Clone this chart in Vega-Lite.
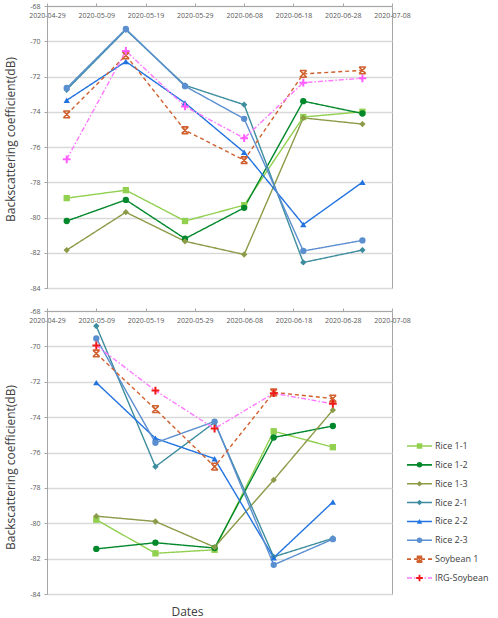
{
  "$schema": "https://vega.github.io/schema/vega-lite/v6.json",
  "background": "white",
  "padding": {"left": 4, "top": 1, "right": 4, "bottom": 0},
  "bounds": "flush",
  "spacing": 23,
  "config": {
    "font": "Open Sans",
    "view": {"stroke": "#A6A6A6", "strokeWidth": 1},
    "axis": {
      "labelFont": "Open Sans", "labelFontSize": 7, "labelColor": "#595959",
      "domainColor": "#A6A6A6", "tickColor": "#A6A6A6",
      "gridColor": "#D9D9D9", "gridWidth": 1.5,
      "titleFont": "Open Sans", "titleFontWeight": "normal", "titleColor": "#404040", "titleFontSize": 12
    }
  },
  "datasets": {
    "top": [
      {"series": "Rice 1-1", "date": "2020-05-03", "value": -78.9},
      {"series": "Rice 1-1", "date": "2020-05-15", "value": -78.45},
      {"series": "Rice 1-1", "date": "2020-05-27", "value": -80.2},
      {"series": "Rice 1-1", "date": "2020-06-08", "value": -79.3},
      {"series": "Rice 1-1", "date": "2020-06-20", "value": -74.3},
      {"series": "Rice 1-1", "date": "2020-07-02", "value": -74.0},
      {"series": "Rice 1-2", "date": "2020-05-03", "value": -80.2},
      {"series": "Rice 1-2", "date": "2020-05-15", "value": -79.0},
      {"series": "Rice 1-2", "date": "2020-05-27", "value": -81.2},
      {"series": "Rice 1-2", "date": "2020-06-08", "value": -79.45},
      {"series": "Rice 1-2", "date": "2020-06-20", "value": -73.4},
      {"series": "Rice 1-2", "date": "2020-07-02", "value": -74.1},
      {"series": "Rice 1-3", "date": "2020-05-03", "value": -81.85},
      {"series": "Rice 1-3", "date": "2020-05-15", "value": -79.7},
      {"series": "Rice 1-3", "date": "2020-05-27", "value": -81.35},
      {"series": "Rice 1-3", "date": "2020-06-08", "value": -82.1},
      {"series": "Rice 1-3", "date": "2020-06-20", "value": -74.35},
      {"series": "Rice 1-3", "date": "2020-07-02", "value": -74.7},
      {"series": "Rice 2-1", "date": "2020-05-03", "value": -72.75},
      {"series": "Rice 2-1", "date": "2020-05-15", "value": -69.35},
      {"series": "Rice 2-1", "date": "2020-05-27", "value": -72.5},
      {"series": "Rice 2-1", "date": "2020-06-08", "value": -73.6},
      {"series": "Rice 2-1", "date": "2020-06-20", "value": -82.55},
      {"series": "Rice 2-1", "date": "2020-07-02", "value": -81.85},
      {"series": "Rice 2-2", "date": "2020-05-03", "value": -73.35},
      {"series": "Rice 2-2", "date": "2020-05-15", "value": -71.15},
      {"series": "Rice 2-2", "date": "2020-05-27", "value": -73.5},
      {"series": "Rice 2-2", "date": "2020-06-08", "value": -76.3},
      {"series": "Rice 2-2", "date": "2020-06-20", "value": -80.4},
      {"series": "Rice 2-2", "date": "2020-07-02", "value": -78.0},
      {"series": "Rice 2-3", "date": "2020-05-03", "value": -72.65},
      {"series": "Rice 2-3", "date": "2020-05-15", "value": -69.3},
      {"series": "Rice 2-3", "date": "2020-05-27", "value": -72.55},
      {"series": "Rice 2-3", "date": "2020-06-08", "value": -74.4},
      {"series": "Rice 2-3", "date": "2020-06-20", "value": -81.9},
      {"series": "Rice 2-3", "date": "2020-07-02", "value": -81.3},
      {"series": "Soybean 1", "date": "2020-05-03", "value": -74.15},
      {"series": "Soybean 1", "date": "2020-05-15", "value": -70.8},
      {"series": "Soybean 1", "date": "2020-05-27", "value": -75.05},
      {"series": "Soybean 1", "date": "2020-06-08", "value": -76.75},
      {"series": "Soybean 1", "date": "2020-06-20", "value": -71.85},
      {"series": "Soybean 1", "date": "2020-07-02", "value": -71.65},
      {"series": "IRG-Soybean", "date": "2020-05-03", "value": -76.7},
      {"series": "IRG-Soybean", "date": "2020-05-15", "value": -70.55},
      {"series": "IRG-Soybean", "date": "2020-05-27", "value": -73.7},
      {"series": "IRG-Soybean", "date": "2020-06-08", "value": -75.5},
      {"series": "IRG-Soybean", "date": "2020-06-20", "value": -72.35},
      {"series": "IRG-Soybean", "date": "2020-07-02", "value": -72.1}
    ],
    "bottom": [
      {"series": "Rice 1-1", "date": "2020-05-09", "value": -79.8},
      {"series": "Rice 1-1", "date": "2020-05-21", "value": -81.7},
      {"series": "Rice 1-1", "date": "2020-06-02", "value": -81.5},
      {"series": "Rice 1-1", "date": "2020-06-14", "value": -74.8},
      {"series": "Rice 1-1", "date": "2020-06-26", "value": -75.7},
      {"series": "Rice 1-2", "date": "2020-05-09", "value": -81.45},
      {"series": "Rice 1-2", "date": "2020-05-21", "value": -81.1},
      {"series": "Rice 1-2", "date": "2020-06-02", "value": -81.4},
      {"series": "Rice 1-2", "date": "2020-06-14", "value": -75.15},
      {"series": "Rice 1-2", "date": "2020-06-26", "value": -74.5},
      {"series": "Rice 1-3", "date": "2020-05-09", "value": -79.6},
      {"series": "Rice 1-3", "date": "2020-05-21", "value": -79.9},
      {"series": "Rice 1-3", "date": "2020-06-02", "value": -81.35},
      {"series": "Rice 1-3", "date": "2020-06-14", "value": -77.55},
      {"series": "Rice 1-3", "date": "2020-06-26", "value": -73.6},
      {"series": "Rice 2-1", "date": "2020-05-09", "value": -68.85},
      {"series": "Rice 2-1", "date": "2020-05-21", "value": -76.8},
      {"series": "Rice 2-1", "date": "2020-06-02", "value": -74.3},
      {"series": "Rice 2-1", "date": "2020-06-14", "value": -81.9},
      {"series": "Rice 2-1", "date": "2020-06-26", "value": -80.85},
      {"series": "Rice 2-2", "date": "2020-05-09", "value": -72.05},
      {"series": "Rice 2-2", "date": "2020-05-21", "value": -75.2},
      {"series": "Rice 2-2", "date": "2020-06-02", "value": -76.35},
      {"series": "Rice 2-2", "date": "2020-06-14", "value": -81.95},
      {"series": "Rice 2-2", "date": "2020-06-26", "value": -78.8},
      {"series": "Rice 2-3", "date": "2020-05-09", "value": -69.55},
      {"series": "Rice 2-3", "date": "2020-05-21", "value": -75.45},
      {"series": "Rice 2-3", "date": "2020-06-02", "value": -74.25},
      {"series": "Rice 2-3", "date": "2020-06-14", "value": -82.35},
      {"series": "Rice 2-3", "date": "2020-06-26", "value": -80.9},
      {"series": "Soybean 1", "date": "2020-05-09", "value": -70.4},
      {"series": "Soybean 1", "date": "2020-05-21", "value": -73.55},
      {"series": "Soybean 1", "date": "2020-06-02", "value": -76.8},
      {"series": "Soybean 1", "date": "2020-06-14", "value": -72.6},
      {"series": "Soybean 1", "date": "2020-06-26", "value": -72.95},
      {"series": "IRG-Soybean", "date": "2020-05-09", "value": -69.95},
      {"series": "IRG-Soybean", "date": "2020-05-21", "value": -72.5},
      {"series": "IRG-Soybean", "date": "2020-06-02", "value": -74.65},
      {"series": "IRG-Soybean", "date": "2020-06-14", "value": -72.65},
      {"series": "IRG-Soybean", "date": "2020-06-26", "value": -73.25}
    ],
    "legendRows": [
      {"series": "Rice 1-1"}, {"series": "Rice 1-2"}, {"series": "Rice 1-3"}, {"series": "Rice 2-1"},
      {"series": "Rice 2-2"}, {"series": "Rice 2-3"}, {"series": "Soybean 1"}, {"series": "IRG-Soybean"}
    ]
  },
  "vconcat": [
    {
      "width": 345, "height": 282,
      "data": {"name": "top"},
      "encoding": {
        "x": {"field": "date", "type": "temporal", "timeUnit": "utcyearmonthdate",
          "scale": {"domain": [{"year": 2020, "month": 4, "date": 29, "utc": true}, {"year": 2020, "month": 7, "date": 8, "utc": true}], "nice": false},
          "axis": {"orient": "top", "title": null,
            "values": [{"year": 2020, "month": 4, "date": 29, "utc": true}, {"year": 2020, "month": 5, "date": 9, "utc": true}, {"year": 2020, "month": 5, "date": 19, "utc": true}, {"year": 2020, "month": 5, "date": 29, "utc": true}, {"year": 2020, "month": 6, "date": 8, "utc": true}, {"year": 2020, "month": 6, "date": 18, "utc": true}, {"year": 2020, "month": 6, "date": 28, "utc": true}, {"year": 2020, "month": 7, "date": 8, "utc": true}],
            "labelExpr": "utcFormat(datum.value, '%Y-%m-%d')",
            "tickSize": 3, "labelPadding": -15, "grid": false, "labelOverlap": false, "labelFlush": false}},
        "y": {"field": "value", "type": "quantitative",
          "scale": {"domain": [-84, -68], "nice": false, "zero": false},
          "axis": {"values": [-84, -82, -80, -78, -76, -74, -72, -70, -68], "labelExpr": "'' + datum.value",
            "title": "Backscattering coefficient(dB)", "grid": true, "tickSize": 3, "labelPadding": 4, "titlePadding": 12, "titleY": 133}},
        "color": {"field": "series", "type": "nominal",
          "scale": {"domain": ["Rice 1-1", "Rice 1-2", "Rice 1-3", "Rice 2-1", "Rice 2-2", "Rice 2-3", "Soybean 1", "IRG-Soybean"],
            "range": ["#92D050", "#00882B", "#8B9B48", "#3D8D9E", "#2273E0", "#5B8FD0", "#D0602E", "#FF77FF"]},
          "legend": null}
      },
      "layer": [
        {"mark": {"type": "line", "strokeWidth": 1.4},
          "encoding": {"strokeDash": {"field": "series", "type": "nominal",
            "scale": {"domain": ["Rice 1-1", "Rice 1-2", "Rice 1-3", "Rice 2-1", "Rice 2-2", "Rice 2-3", "Soybean 1", "IRG-Soybean"],
              "range": [[1, 0], [1, 0], [1, 0], [1, 0], [1, 0], [1, 0], [4, 3], [5, 2, 1.5, 2]]}, "legend": null}}},
        {"transform": [{"filter": "indexof(['Soybean 1', 'IRG-Soybean'], datum.series) < 0"}],
          "mark": {"type": "point", "filled": true, "opacity": 1, "size": 40},
          "encoding": {"shape": {"field": "series", "type": "nominal",
            "scale": {"domain": ["Rice 1-1", "Rice 1-2", "Rice 1-3", "Rice 2-1", "Rice 2-2", "Rice 2-3"],
              "range": ["square", "circle", "diamond", "diamond", "triangle-up", "circle"]}, "legend": null}}},
        {"transform": [{"filter": "datum.series === 'Soybean 1'"}],
          "mark": {"type": "point", "filled": false, "opacity": 1, "size": 45, "strokeWidth": 1.6, "shape": "M-1,-1L1,1M1,-1L-1,1M-1,-1H1M-1,1H1"}},
        {"transform": [{"filter": "datum.series === 'IRG-Soybean'"}],
          "mark": {"type": "point", "filled": false, "opacity": 1, "size": 60, "strokeWidth": 2, "shape": "M-1,0H1M0,-1V1"},
          "encoding": {"color": {"value": "#FF5CFF"}}}
      ]
    },
    {
      "hconcat": [
        {
          "width": 345, "height": 283,
          "data": {"name": "bottom"},
          "encoding": {
            "x": {"field": "date", "type": "temporal", "timeUnit": "utcyearmonthdate",
              "scale": {"domain": [{"year": 2020, "month": 4, "date": 29, "utc": true}, {"year": 2020, "month": 7, "date": 8, "utc": true}], "nice": false},
              "axis": {"orient": "top", "title": "Dates", "titleX": 140, "titleY": 300, "titleBaseline": "middle", "titleAngle": 0,
                "values": [{"year": 2020, "month": 4, "date": 29, "utc": true}, {"year": 2020, "month": 5, "date": 9, "utc": true}, {"year": 2020, "month": 5, "date": 19, "utc": true}, {"year": 2020, "month": 5, "date": 29, "utc": true}, {"year": 2020, "month": 6, "date": 8, "utc": true}, {"year": 2020, "month": 6, "date": 18, "utc": true}, {"year": 2020, "month": 6, "date": 28, "utc": true}, {"year": 2020, "month": 7, "date": 8, "utc": true}],
                "labelExpr": "utcFormat(datum.value, '%Y-%m-%d')",
                "tickSize": 3, "labelPadding": -15, "grid": false, "labelOverlap": false, "labelFlush": false}},
            "y": {"field": "value", "type": "quantitative",
              "scale": {"domain": [-84, -68], "nice": false, "zero": false},
              "axis": {"values": [-84, -82, -80, -78, -76, -74, -72, -70, -68], "labelExpr": "'' + datum.value",
                "title": "Backscattering coefficient(dB)", "grid": true, "tickSize": 3, "labelPadding": 4, "titlePadding": 12, "titleY": 156}},
            "color": {"field": "series", "type": "nominal",
              "scale": {"domain": ["Rice 1-1", "Rice 1-2", "Rice 1-3", "Rice 2-1", "Rice 2-2", "Rice 2-3", "Soybean 1", "IRG-Soybean"],
                "range": ["#92D050", "#00882B", "#8B9B48", "#3D8D9E", "#2273E0", "#5B8FD0", "#D0602E", "#FF77FF"]},
              "legend": null}
          },
          "layer": [
            {"mark": {"type": "line", "strokeWidth": 1.4},
              "encoding": {"strokeDash": {"field": "series", "type": "nominal",
                "scale": {"domain": ["Rice 1-1", "Rice 1-2", "Rice 1-3", "Rice 2-1", "Rice 2-2", "Rice 2-3", "Soybean 1", "IRG-Soybean"],
                  "range": [[1, 0], [1, 0], [1, 0], [1, 0], [1, 0], [1, 0], [4, 3], [5, 2, 1.5, 2]]}, "legend": null}}},
            {"transform": [{"filter": "indexof(['Soybean 1', 'IRG-Soybean'], datum.series) < 0"}],
              "mark": {"type": "point", "filled": true, "opacity": 1, "size": 40},
              "encoding": {"shape": {"field": "series", "type": "nominal",
                "scale": {"domain": ["Rice 1-1", "Rice 1-2", "Rice 1-3", "Rice 2-1", "Rice 2-2", "Rice 2-3"],
                  "range": ["square", "circle", "diamond", "diamond", "triangle-up", "circle"]}, "legend": null}}},
            {"transform": [{"filter": "datum.series === 'Soybean 1'"}],
              "mark": {"type": "point", "filled": false, "opacity": 1, "size": 45, "strokeWidth": 1.6, "shape": "M-1,-1L1,1M1,-1L-1,1M-1,-1H1M-1,1H1"}},
            {"transform": [{"filter": "datum.series === 'IRG-Soybean'"}],
              "mark": {"type": "point", "filled": false, "opacity": 1, "size": 60, "strokeWidth": 2, "shape": "M-1,0H1M0,-1V1"},
              "encoding": {"color": {"value": "#F01818"}}}
          ]
        },
        {
          "width": 85, "height": 283,
          "view": {"stroke": null},
          "data": {"name": "legendRows"},
          "encoding": {
            "y": {"field": "series", "type": "nominal", "sort": null,
              "scale": {"type": "point", "padding": 0, "domain": ["Rice 1-1", "Rice 1-2", "Rice 1-3", "Rice 2-1", "Rice 2-2", "Rice 2-3", "Soybean 1", "IRG-Soybean"], "range": [135, 267]},
              "axis": null},
            "color": {"field": "series", "type": "nominal",
              "scale": {"domain": ["Rice 1-1", "Rice 1-2", "Rice 1-3", "Rice 2-1", "Rice 2-2", "Rice 2-3", "Soybean 1", "IRG-Soybean"],
                "range": ["#92D050", "#00882B", "#8B9B48", "#3D8D9E", "#2273E0", "#5B8FD0", "#D0602E", "#FF77FF"]},
              "legend": null}
          },
          "layer": [
            {"mark": {"type": "rule", "strokeWidth": 1.6},
              "encoding": {
                "x": {"datum": 0, "type": "quantitative", "scale": {"domain": [0, 85], "nice": false, "zero": false}, "axis": null},
                "x2": {"datum": 25},
                "strokeDash": {"field": "series", "type": "nominal",
                  "scale": {"domain": ["Rice 1-1", "Rice 1-2", "Rice 1-3", "Rice 2-1", "Rice 2-2", "Rice 2-3", "Soybean 1", "IRG-Soybean"],
                    "range": [[1, 0], [1, 0], [1, 0], [1, 0], [1, 0], [1, 0], [4, 3], [5, 2, 1.5, 2]]}, "legend": null}}},
            {"transform": [{"filter": "indexof(['Soybean 1', 'IRG-Soybean'], datum.series) < 0"}],
              "mark": {"type": "point", "filled": true, "opacity": 1, "size": 30},
              "encoding": {
                "x": {"datum": 12.5, "type": "quantitative"},
                "shape": {"field": "series", "type": "nominal",
                  "scale": {"domain": ["Rice 1-1", "Rice 1-2", "Rice 1-3", "Rice 2-1", "Rice 2-2", "Rice 2-3"],
                    "range": ["square", "circle", "diamond", "diamond", "triangle-up", "circle"]}, "legend": null}}},
            {"transform": [{"filter": "datum.series === 'Soybean 1'"}],
              "mark": {"type": "point", "filled": false, "opacity": 1, "size": 30, "strokeWidth": 2, "shape": "M-1,-1L1,1M1,-1L-1,1M-1,-1H1M-1,1H1"},
              "encoding": {"x": {"datum": 12.5, "type": "quantitative"}}},
            {"transform": [{"filter": "datum.series === 'IRG-Soybean'"}],
              "mark": {"type": "point", "filled": false, "opacity": 1, "size": 45, "strokeWidth": 1.8, "shape": "M-1,0H1M0,-1V1"},
              "encoding": {"x": {"datum": 12.5, "type": "quantitative"}, "color": {"value": "#F01818"}}},
            {"mark": {"type": "text", "align": "left", "baseline": "middle", "fontSize": 9, "font": "Open Sans", "color": "#404040"},
              "encoding": {"x": {"datum": 28, "type": "quantitative"}, "text": {"field": "series"}, "color": {"value": "#404040"}}}
          ]
        }
      ],
      "bounds": "flush",
      "spacing": 15,
      "resolve": {"scale": {"x": "independent", "y": "independent"}}
    }
  ]
}
